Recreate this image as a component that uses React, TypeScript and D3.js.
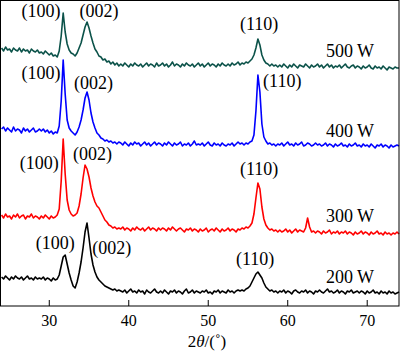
import React from "react";
import * as d3 from "d3";

// 2θ grid, 24° to 74° in 0.25° steps
const angles = d3.range(24, 74.001, 0.25);

// intensities (a.u., stacked)
const w500 = [
  258, 255, 259, 256, 257, 254, 258, 256, 255, 258, 254, 257, 255, 256, 253, 257, 255, 254, 256, 253,
  254, 252, 255, 253, 251, 253, 250, 251, 249, 255, 270, 293, 274, 262, 256, 253, 252, 250, 253, 258,
  263, 271, 279, 284, 278, 270, 263, 257, 254, 250, 249, 246, 247, 244, 245, 242, 244, 241, 243, 240,
  242, 240, 243, 241, 239, 242, 240, 243, 241, 240, 242, 239, 241, 243, 240, 242, 241, 239, 243, 240,
  241, 243, 240, 242, 239, 241, 244, 240, 242, 241, 239, 242, 240, 243, 241, 240, 242, 239, 241, 243,
  240, 242, 239, 241, 243, 240, 242, 241, 239, 242, 240, 243, 241, 240, 242, 240, 243, 241, 242, 244,
  241, 243, 242, 244, 243, 245, 247, 251, 258, 267, 261, 251, 246, 243, 242, 240, 242, 240, 241, 239,
  241, 239, 242, 240, 238, 241, 239, 242, 240, 238, 241, 240, 239, 242, 240, 238, 241, 239, 240, 242,
  239, 241, 238, 240, 242, 239, 241, 238, 240, 239, 241, 238, 240, 242, 239, 238, 240, 241, 238, 240,
  239, 237, 240, 238, 239, 241, 238, 237, 240, 238, 239, 237, 240, 238, 236, 239, 238, 237, 239, 238,
  238,
];
const w400 = [
  177, 179, 175, 178, 176, 174, 179, 175, 177, 176, 173, 178, 175, 177, 174, 176, 178, 174, 175, 177,
  175, 177, 174, 176, 173, 175, 172, 174, 173, 180, 205, 246, 212, 186, 178, 175, 173, 171, 174, 179,
  186, 196, 208, 214, 206, 193, 184, 178, 173, 171, 168, 167, 165, 166, 164, 165, 163, 164, 162, 164,
  163, 161, 164, 162, 160, 163, 161, 164, 162, 163, 160, 162, 164, 161, 163, 160, 162, 164, 161, 163,
  162, 160, 163, 161, 164, 162, 160, 163, 161, 162, 164, 160, 162, 161, 163, 160, 162, 165, 161, 162,
  161, 163, 160, 162, 164, 161, 160, 163, 161, 162, 160, 163, 161, 160, 162, 161, 163, 160, 162, 164,
  162, 163, 161, 163, 162, 164, 165, 171, 195, 231, 214, 182, 169, 165, 162, 163, 161, 162, 160, 162,
  161, 163, 160, 162, 164, 161, 162, 160, 163, 161, 162, 164, 160, 161, 163, 162, 160, 161, 163, 161,
  162, 160, 161, 163, 160, 162, 161, 159, 162, 160, 161, 163, 160, 161, 159, 162, 160, 161, 163, 160,
  161, 159, 162, 160, 161, 159, 162, 160, 158, 161, 160, 162, 159, 161, 160, 158, 161, 159, 160, 161,
  160,
];
const w300 = [
  91, 88, 92, 89, 90, 87, 91, 89, 92, 88, 90, 91, 87, 90, 89, 92, 88, 90, 89, 87,
  90, 88, 91, 89, 87, 90, 88, 89, 91, 97, 125, 167, 132, 106, 96, 92, 90, 91, 93, 100,
  112, 128, 141, 137, 129, 118, 110, 104, 100, 98, 94, 90, 86, 84, 81, 80, 78, 79, 77, 78,
  77, 79, 76, 78, 77, 75, 78, 76, 79, 77, 76, 78, 75, 77, 79, 76, 78, 77, 75, 78,
  76, 78, 77, 75, 78, 76, 79, 77, 75, 77, 78, 76, 74, 77, 76, 78, 75, 77, 76, 74,
  77, 75, 76, 78, 74, 76, 77, 75, 78, 76, 74, 77, 75, 76, 78, 75, 77, 76, 74, 77,
  76, 78, 77, 79, 78, 80, 83, 92, 108, 123, 117, 99, 87, 81, 78, 76, 77, 75, 76, 74,
  76, 74, 75, 77, 74, 76, 73, 75, 77, 74, 76, 75, 74, 78, 88, 79, 74, 75, 73, 75,
  74, 72, 75, 73, 74, 76, 72, 74, 73, 75, 72, 74, 73, 75, 72, 74, 73, 71, 74, 72,
  73, 75, 72, 74, 73, 71, 74, 72, 73, 75, 72, 73, 71, 74, 72, 73, 71, 73, 72, 74,
  72,
];
const w200 = [
  29, 27, 30, 28, 26, 29, 27, 30, 28, 27, 29, 26, 28, 30, 27, 28, 26, 29, 27, 28,
  27, 29, 26, 28, 27, 25, 28, 26, 27, 31, 40, 49, 51, 42, 33, 26, 20, 18, 24, 33,
  44, 58, 74, 83, 68, 52, 41, 34, 29, 26, 24, 22, 20, 19, 18, 17, 16, 17, 15, 16,
  15, 14, 16, 13, 15, 17, 14, 15, 13, 16, 14, 15, 12, 16, 14, 13, 15, 17, 14, 13,
  15, 13, 16, 14, 12, 15, 14, 16, 13, 15, 14, 12, 15, 17, 13, 14, 16, 13, 15, 14,
  13, 15, 14, 16, 13, 14, 12, 15, 14, 16, 13, 15, 14, 13, 16, 14, 15, 13, 15, 16,
  15, 16, 15, 17, 18, 20, 24, 28, 32, 34, 31, 28, 23, 19, 17, 15, 16, 14, 15, 13,
  15, 14, 16, 13, 15, 14, 12, 15, 16, 14, 13, 15, 14, 16, 13, 15, 14, 12, 15, 14,
  16, 14, 13, 15, 17, 14, 15, 13, 14, 16, 13, 15, 14, 12, 15, 14, 16, 13, 14, 15,
  13, 15, 14, 12, 15, 13, 14, 16, 13, 14, 12, 15, 13, 14, 12, 15, 13, 14, 12, 13,
  14,
];

const seriesNames = ["500 W", "400 W", "300 W", "200 W"];
const seriesValues = [w500, w400, w300, w200];
const seriesColors = ["#0b5249", "#0000ff", "#ff0000", "#000000"];

// series name label: [2θ, level]
const nameAngles = [64.8, 64.8, 64.8, 64.8];
const nameLevels = [249, 169, 84, 23];

// peak labels: text, start 2θ, level
const peakText = [
  "(100)", "(002)", "(110)",
  "(100)", "(002)", "(110)",
  "(100)", "(002)", "(110)",
  "(100)", "(002)", "(110)",
];
const peakAngles = [
  26.5, 33.8, 54.0,
  26.5, 33.1, 56.9,
  26.3, 33.0, 54.0,
  28.3, 35.4, 53.5,
];
const peakLevels = [
  289, 289, 276,
  227, 217, 219,
  137, 146, 131,
  57, 52, 41,
];

const xTicks = [30, 40, 50, 60, 70];

const W = 400;
const H = 353;
const axisY = 306;

export default function App() {
  const x = d3.scaleLinear().domain([23.8, 74]).range([0, 399]);
  const y = d3.scaleLinear().domain([0, 306]).range([axisY, 0]);

  const line = d3
    .line<number>()
    .x((d, i) => x(angles[i]))
    .y((d) => y(d));

  const font = "'Liberation Serif', 'Times New Roman', serif";

  return (
    <svg
      width={W}
      height={H}
      style={{ position: "absolute", left: 0, top: 0, background: "#fff" }}
      fontFamily={font}
    >
      {seriesValues.map((vals, k) => (
        <path
          key={seriesNames[k]}
          d={line(vals) || ""}
          fill="none"
          stroke={seriesColors[k]}
          strokeWidth={1.6}
          strokeLinejoin="round"
        />
      ))}

      {/* frame */}
      <rect x={0.5} y={0.5} width={398.5} height={axisY - 0.5} fill="none" stroke="#000" strokeWidth={1} />

      {/* x ticks, pointing inward */}
      {xTicks.map((t) => (
        <g key={t}>
          <line x1={x(t)} x2={x(t)} y1={axisY} y2={axisY - 6} stroke="#000" />
          <text x={x(t)} y={326} fontSize={16} textAnchor="middle">
            {t}
          </text>
        </g>
      ))}

      <text x={207} y={347} fontSize={17} textAnchor="middle">
        2<tspan fontStyle="italic">θ</tspan>/(˚)
      </text>

      {peakText.map((t, i) => (
        <text key={i} x={x(peakAngles[i])} y={y(peakLevels[i])} fontSize={18}>
          {t}
        </text>
      ))}

      {seriesNames.map((n, k) => (
        <text key={n} x={x(nameAngles[k])} y={y(nameLevels[k])} fontSize={18}>
          {n}
        </text>
      ))}
    </svg>
  );
}
